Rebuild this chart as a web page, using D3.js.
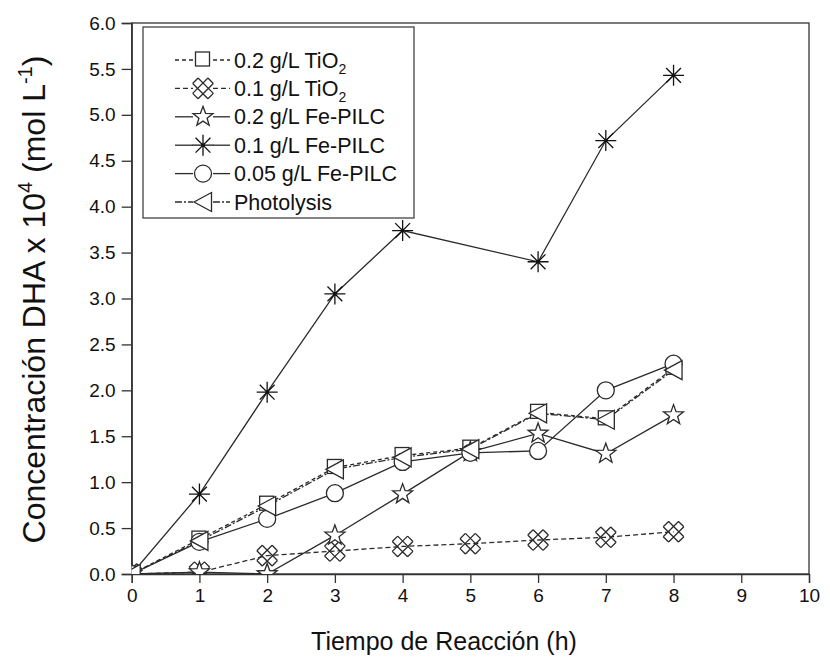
<!DOCTYPE html>
<html>
<head>
<meta charset="utf-8">
<script src="https://cdn.jsdelivr.net/npm/d3@7"></script>
<style>
  body { margin: 0; background: #fff; }
  svg text { font-family: "Liberation Sans", Arial, sans-serif; fill: #111; }
</style>
</head>
<body>
<svg id="chart" width="830" height="668"></svg>
<script>
// Reaction time (h)
const hours = [0, 1, 2, 3, 4, 5, 6, 7, 8];

// DHA concentration x 10^4 (mol L^-1) per catalyst condition
const tio2High   = [0, 0.38, 0.76, 1.16, 1.29, 1.37, 1.76, 1.69, 2.24]; // 0.2 g/L TiO2
const tio2Low    = [0, 0.02, 0.20, 0.25, 0.30, 0.33, 0.37, 0.40, 0.46]; // 0.1 g/L TiO2
const fePilcHigh = [0, 0.02, 0.00, 0.42, 0.87, 1.33, 1.53, 1.31, 1.73]; // 0.2 g/L Fe-PILC
const fePilcMid  = [0, 0.87, 1.98, 3.05, 3.74, null, 3.40, 4.72, 5.43]; // 0.1 g/L Fe-PILC
const fePilcLow  = [0, 0.35, 0.60, 0.88, 1.22, 1.32, 1.34, 2.00, 2.29]; // 0.05 g/L Fe-PILC
const photolysis = [0, 0.36, 0.74, 1.14, 1.27, 1.36, 1.75, 1.68, 2.22];

const seriesLabels = ["0.2 g/L TiO2", "0.1 g/L TiO2", "0.2 g/L Fe-PILC",
                      "0.1 g/L Fe-PILC", "0.05 g/L Fe-PILC", "Photolysis"];
const xTickValues = [0, 1, 2, 3, 4, 5, 6, 7, 8, 9, 10];
const yTickValues = [0, 0.5, 1, 1.5, 2, 2.5, 3, 3.5, 4, 4.5, 5, 5.5, 6];

const svg = d3.select("#chart");
const plot = { left: 131.7, right: 809, top: 23, bottom: 574 };

const x = d3.scaleLinear().domain([0, 10]).range([plot.left, plot.right]);
const y = d3.scaleLinear().domain([0, 6]).range([plot.bottom, plot.top]);

const ink = "#2b2b2b";

// ---- marker shapes (paths centred on 0,0) ----
function starPath(R, r) {
  const pts = [];
  for (let i = 0; i < 10; i++) {
    const a = -Math.PI / 2 + i * Math.PI / 5;
    const rad = i % 2 === 0 ? R : r;
    pts.push([rad * Math.cos(a), rad * Math.sin(a)]);
  }
  return "M" + pts.map(p => p[0].toFixed(2) + "," + p[1].toFixed(2)).join("L") + "Z";
}
function crossHatchPath(a, b) {
  // rotated "#" with closed arm ends
  const segs = [
    [[-a, -b], [-a, b]], [[a, -b], [a, b]],
    [[-b, -a], [b, -a]], [[-b, a], [b, a]],
    [[-a, -b], [a, -b]], [[-a, b], [a, b]],
    [[-b, -a], [-b, a]], [[b, -a], [b, a]]
  ];
  const c = Math.SQRT1_2;
  const rot = p => [(p[0] - p[1]) * c, (p[0] + p[1]) * c];
  return segs.map(s => {
    const p = rot(s[0]), q = rot(s[1]);
    return "M" + p[0].toFixed(2) + "," + p[1].toFixed(2) + "L" + q[0].toFixed(2) + "," + q[1].toFixed(2);
  }).join("");
}
function asteriskPath(r) {
  let d = "";
  for (let i = 0; i < 4; i++) {
    const a = i * Math.PI / 4;
    const dx = r * Math.cos(a), dy = r * Math.sin(a);
    d += "M" + (-dx).toFixed(2) + "," + (-dy).toFixed(2) + "L" + dx.toFixed(2) + "," + dy.toFixed(2);
  }
  return d;
}

function drawMarker(g, kind, cx, cy) {
  const m = g.append("g").attr("transform", `translate(${cx},${cy})`);
  const st = el => el.attr("fill", "#fff").attr("stroke", ink).attr("stroke-width", 1.3);
  if (kind === "square") {
    st(m.append("rect").attr("x", -7.5).attr("y", -8).attr("width", 14).attr("height", 14));
  } else if (kind === "cross") {
    m.append("path").attr("d", crossHatchPath(3.8, 10.8)).attr("fill", "none")
      .attr("stroke", ink).attr("stroke-width", 1.3);
  } else if (kind === "star") {
    st(m.append("path").attr("d", starPath(10.5, 4.3)));
  } else if (kind === "asterisk") {
    m.append("path").attr("d", asteriskPath(10.5)).attr("fill", "none")
      .attr("stroke", "#111").attr("stroke-width", 1.3);
    m.append("circle").attr("r", 1.6).attr("fill", "#111");
  } else if (kind === "circle") {
    st(m.append("circle").attr("r", 8.5));
  } else if (kind === "triangle") {
    st(m.append("path").attr("d", "M-9,0L8.5,-9.5L8.5,9.5Z"));
  }
}

const series = [
  { name: seriesLabels[0], values: tio2High,   marker: "square",   dash: "4,3" },
  { name: seriesLabels[1], values: tio2Low,    marker: "cross",    dash: "5,3" },
  { name: seriesLabels[2], values: fePilcHigh, marker: "star",     dash: null },
  { name: seriesLabels[3], values: fePilcMid,  marker: "asterisk", dash: null },
  { name: seriesLabels[4], values: fePilcLow,  marker: "circle",   dash: null },
  { name: seriesLabels[5], values: photolysis, marker: "triangle", dash: "7,2,2,2" }
];

// ---- clip region for the data ----
svg.append("defs").append("clipPath").attr("id", "plot-clip")
  .append("rect")
  .attr("x", plot.left).attr("y", plot.top)
  .attr("width", plot.right - plot.left).attr("height", plot.bottom - plot.top);

// ---- frame ----
svg.append("rect")
  .attr("x", plot.left).attr("y", plot.top)
  .attr("width", plot.right - plot.left).attr("height", plot.bottom - plot.top)
  .attr("fill", "none").attr("stroke", "#333").attr("stroke-width", 1.3);

// ---- axes ----
const xAxis = d3.axisBottom(x).tickValues(xTickValues).tickFormat(d3.format("d"))
  .tickSize(9).tickPadding(6);
const gx = svg.append("g").attr("transform", `translate(0,${plot.bottom})`).call(xAxis);
gx.select(".domain").attr("stroke", "#333").attr("stroke-width", 1.3);
gx.selectAll(".tick line").attr("stroke", "#333").attr("stroke-width", 1.3);
gx.selectAll(".tick text").attr("font-size", 19).attr("fill", "#111")
  .attr("font-family", "Liberation Sans, Arial, sans-serif");

const yAxis = d3.axisLeft(y).tickValues(yTickValues).tickFormat(d3.format(".1f"))
  .tickSize(10).tickPadding(6);
const gy = svg.append("g").attr("transform", `translate(${plot.left},0)`).call(yAxis);
gy.select(".domain").attr("stroke", "#333").attr("stroke-width", 1.3);
gy.selectAll(".tick line").attr("stroke", "#333").attr("stroke-width", 1.3);
gy.selectAll(".tick text").attr("font-size", 19).attr("fill", "#111")
  .attr("font-family", "Liberation Sans, Arial, sans-serif");

// ---- lines ----
const dataLayer = svg.append("g").attr("clip-path", "url(#plot-clip)");
const line = d3.line().x(d => x(d.t)).y(d => y(d.v));

series.forEach(s => {
  const pts = hours.map((t, i) => ({ t, v: s.values[i] })).filter(d => d.v !== null);
  dataLayer.append("path")
    .datum(pts)
    .attr("d", line)
    .attr("fill", "none")
    .attr("stroke", ink)
    .attr("stroke-width", 1.3)
    .attr("stroke-dasharray", s.dash);
});

// ---- markers ----
series.forEach(s => {
  hours.forEach((t, i) => {
    const v = s.values[i];
    if (v === null) return;
    drawMarker(dataLayer, s.marker, x(t), y(v));
  });
});

// ---- legend ----
const legend = svg.append("g");
legend.append("rect")
  .attr("x", 143).attr("y", 27).attr("width", 271).attr("height", 191)
  .attr("fill", "#fff").attr("stroke", "#444").attr("stroke-width", 1.3);

const rowY = d3.scalePoint().domain(d3.range(series.length)).range([60, 202]);
series.forEach((s, i) => {
  const cy = rowY(i);
  legend.append("line").attr("x1", 175).attr("x2", 193).attr("y1", cy).attr("y2", cy)
    .attr("stroke", ink).attr("stroke-width", 1.3).attr("stroke-dasharray", s.dash);
  legend.append("line").attr("x1", 213).attr("x2", 230).attr("y1", cy).attr("y2", cy)
    .attr("stroke", ink).attr("stroke-width", 1.3).attr("stroke-dasharray", s.dash);
  drawMarker(legend, s.marker, 203, cy);
  const txt = legend.append("text").attr("x", 234).attr("y", cy + 7.5).attr("font-size", 21.5);
  const m = s.name.match(/^(.*TiO)2$/);
  if (m) {
    txt.append("tspan").text(m[1]);
    txt.append("tspan").attr("font-size", 14).attr("dy", 6).text("2");
  } else {
    txt.text(s.name);
  }
});

// ---- axis titles ----
svg.append("text")
  .attr("x", 444).attr("y", 650)
  .attr("text-anchor", "middle")
  .attr("font-family", "Lato, 'Open Sans', sans-serif")
  .attr("font-size", 25)
  .text("Tiempo de Reacción (h)");

const yt = svg.append("text")
  .attr("transform", `translate(45,${(plot.top + plot.bottom) / 2 + 1}) rotate(-90)`)
  .attr("text-anchor", "middle")
  .attr("font-size", 32);
yt.append("tspan").text("Concentración DHA x 10");
yt.append("tspan").attr("font-size", 20).attr("dy", -13).text("4");
yt.append("tspan").attr("dy", 13).text(" (mol L");
yt.append("tspan").attr("font-size", 20).attr("dy", -13).text("-1");
yt.append("tspan").attr("dy", 13).text(")");
</script>
</body>
</html>
